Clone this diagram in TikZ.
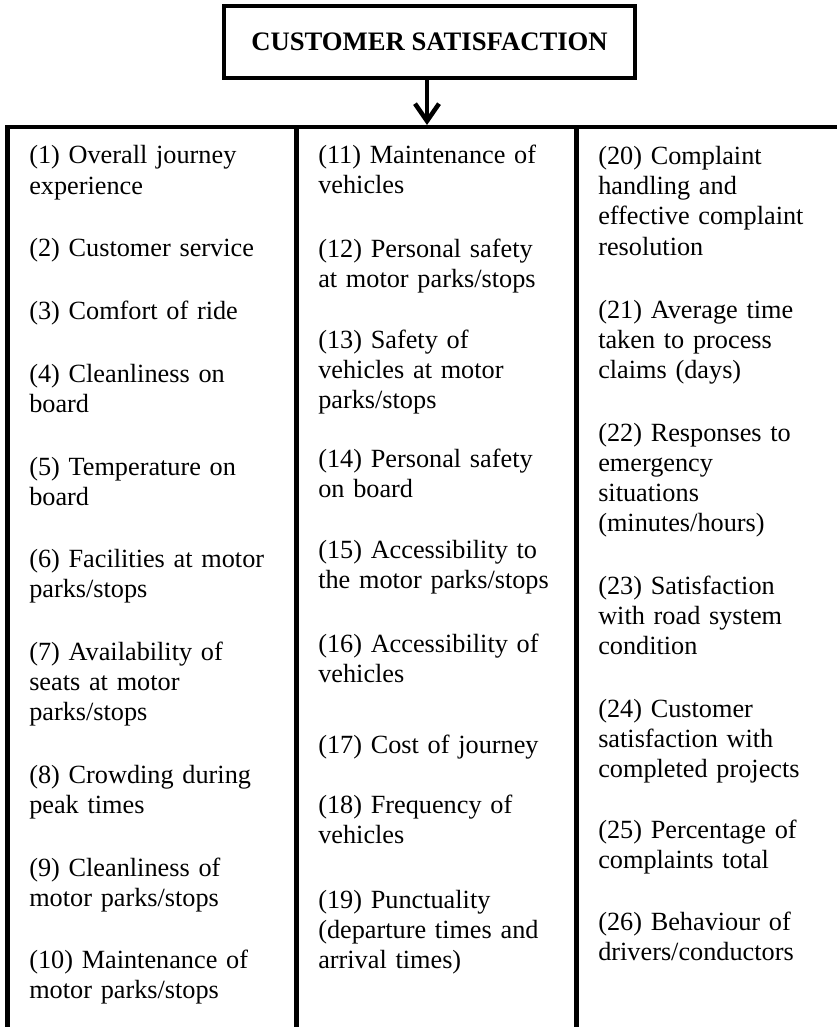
\documentclass[tikz,border=0pt]{standalone}
\usepackage{fontspec}
\setmainfont{Liberation Serif}
\usetikzlibrary{arrows.meta}
\begin{document}
\begin{tikzpicture}[x=0.75pt,y=-0.75pt,
  item/.style={anchor=base west, inner sep=0pt, text width=190pt, align=left, font=\fontsize{19.7}{22.5}\selectfont},
  rule/.style={line width=3.4pt},
  titlebox/.style={draw, line width=3.4pt, minimum width=308pt, minimum height=54pt, inner sep=0pt, font=\bfseries\fontsize{20}{22.5}\selectfont}]
\useasboundingbox (0,0) rectangle (836,1027);
\node[titlebox] (title) at (429.5,42) {CUSTOMER SATISFACTION};
% frame
\coordinate (hl) at (7.5,127);
\coordinate (hr) at (840,127);
\coordinate (bl) at (7.5,1030);
\coordinate (d1t) at (296.5,127);
\coordinate (d1b) at (296.5,1030);
\coordinate (d2t) at (576.5,127);
\coordinate (d2b) at (576.5,1030);
\coordinate (tip) at (427,125);
\draw[rule] (hr) -- (hl) -- (bl);
\draw[rule] (d1t) -- (d1b);
\draw[rule] (d2t) -- (d2b);
\draw[rule,-{Straight Barb[length=13pt,width=18pt]}] (title.south -| tip) -- (tip);
% column 1
\node[item] (i1) at (29,164) {(1) Overall journey\\experience};
\node[item] (i2) at (29,256.75) {(2) Customer service};
\node[item] (i3) at (29,319.5) {(3) Comfort of ride};
\node[item] (i4) at (29,382.25) {(4) Cleanliness on\\board};
\node[item] (i5) at (29,475) {(5) Temperature on\\board};
\node[item] (i6) at (29,567.75) {(6) Facilities at motor\\parks/stops};
\node[item] (i7) at (29,660.5) {(7) Availability of\\seats at motor\\parks/stops};
\node[item] (i8) at (29,783.25) {(8) Crowding during\\peak times};
\node[item] (i9) at (29,876) {(9) Cleanliness of\\motor parks/stops};
\node[item] (i10) at (29,968.75) {(10) Maintenance of\\motor parks/stops};
% column 2
\node[item] (i11) at (318,163) {(11) Maintenance of\\vehicles};
\node[item] (i12) at (318,257) {(12) Personal safety\\at motor parks/stops};
\node[item] (i13) at (318,348) {(13) Safety of\\vehicles at motor\\parks/stops};
\node[item] (i14) at (318,467) {(14) Personal safety\\on board};
\node[item] (i15) at (318,558) {(15) Accessibility to\\the motor parks/stops};
\node[item] (i16) at (318,652) {(16) Accessibility of\\vehicles};
\node[item] (i17) at (318,753) {(17) Cost of journey};
\node[item] (i18) at (318,813) {(18) Frequency of\\vehicles};
\node[item] (i19) at (318,908) {(19) Punctuality\\(departure times and\\arrival times)};
% column 3
\node[item] (i20) at (598,165) {(20) Complaint\\handling and\\effective complaint\\resolution};
\node[item] (i21) at (598,318) {(21) Average time\\taken to process\\claims (days)};
\node[item] (i22) at (598,441) {(22) Responses to\\emergency\\situations\\(minutes/hours)};
\node[item] (i23) at (598,594) {(23) Satisfaction\\with road system\\condition};
\node[item] (i24) at (598,717) {(24) Customer\\satisfaction with\\completed projects};
\node[item] (i25) at (598,838) {(25) Percentage of\\complaints total};
\node[item] (i26) at (598,930) {(26) Behaviour of\\drivers/conductors};
\end{tikzpicture}
\end{document}
